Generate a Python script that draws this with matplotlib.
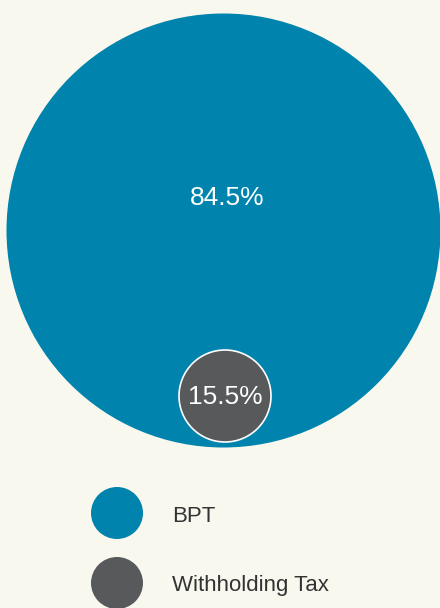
import matplotlib
matplotlib.use('Agg')
import matplotlib.pyplot as plt
from matplotlib.patches import Circle

# data
categories = ['BPT', 'Withholding Tax']
shares = [84.5, 15.5]
colors = ['#0083ad', '#58595b']

bg = '#f8f8ee'
plt.rcParams['font.family'] = ['Liberation Sans', 'DejaVu Sans']

fig = plt.figure(figsize=(4.4, 6.08), dpi=100, facecolor=bg)
ax = fig.add_axes([0, 0, 1, 1])
ax.set_facecolor(bg)
ax.set_xlim(0, 440)
ax.set_ylim(608, 0)
ax.set_aspect('equal')
ax.axis('off')

# bubbles: big one for the main share, small one sitting at its bottom
big = Circle((223.5, 230.5), 217, facecolor=colors[0], edgecolor='none')
small = Circle((225, 396), 46, facecolor=colors[1], edgecolor='white', linewidth=1.2)
ax.add_patch(big)
ax.add_patch(small)

ax.text(227.5, 198, '{:.1f}%'.format(shares[0]), color='white', fontsize=19,
        ha='center', va='center')
ax.text(225.5, 397, '{:.1f}%'.format(shares[1]), color='white', fontsize=19,
        ha='center', va='center')

# legend
for i, (name, col) in enumerate(zip(categories, colors)):
    y = 513 + i * 70
    ax.add_patch(Circle((117, y), 26, facecolor=col, edgecolor='none'))
    ax.text(172, y + 3, name, color='#333333', fontsize=16, ha='left', va='center')

fig.savefig('out.png', dpi=100, facecolor=bg)
